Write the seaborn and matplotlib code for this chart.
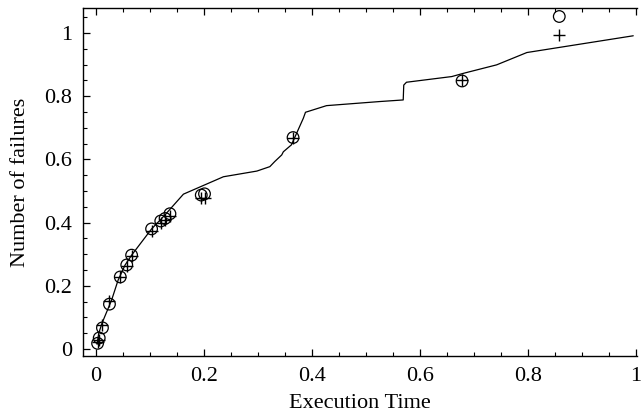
import numpy as np
import pandas as pd
import matplotlib
matplotlib.use("Agg")
import matplotlib.pyplot as plt
from matplotlib.ticker import MultipleLocator
import seaborn as sns

# observed failure points (circles) and estimated points (crosses)
fail_time = [0.003, 0.006, 0.012, 0.025, 0.045, 0.057, 0.066, 0.103, 0.120, 0.128,
             0.137, 0.195, 0.201, 0.365, 0.678, 0.858]
circle_y = [0.018, 0.035, 0.067, 0.142, 0.228, 0.266, 0.297, 0.380, 0.405, 0.413,
            0.428, 0.487, 0.491, 0.669, 0.848, 1.052]
cross_y = [0.022, 0.030, 0.075, 0.152, 0.228, 0.262, 0.295, 0.372, 0.398, 0.408,
           0.420, 0.478, 0.479, 0.669, 0.852, 0.994]

# fitted curve
curve_x = [0.002, 0.005, 0.011, 0.029, 0.041, 0.054, 0.066, 0.103, 0.125, 0.162,
           0.236, 0.298, 0.322, 0.331, 0.344, 0.347, 0.362, 0.384, 0.388, 0.427,
           0.526, 0.569, 0.570, 0.575, 0.659, 0.680, 0.742, 0.798, 0.995]
curve_y = [0.015, 0.049, 0.081, 0.155, 0.218, 0.266, 0.297, 0.380, 0.419, 0.490,
           0.545, 0.563, 0.577, 0.593, 0.614, 0.624, 0.646, 0.730, 0.749, 0.770,
           0.783, 0.788, 0.835, 0.844, 0.862, 0.872, 0.899, 0.938, 0.991]

sns.set_style("ticks")
plt.rcParams['font.family'] = ['Liberation Serif', 'DejaVu Serif']
plt.rcParams['text.color'] = 'black'
plt.rcParams['axes.labelcolor'] = 'black'

fig = plt.figure(figsize=(6.41, 4.19), dpi=100)
ax = fig.add_axes([0.1295, 0.1504, 0.8643, 0.8306])

curve = pd.DataFrame({"x": curve_x, "y": curve_y})
pts = pd.DataFrame({"t": fail_time, "c": circle_y, "p": cross_y})

sns.lineplot(data=curve, x="x", y="y", sort=False, color="black", linewidth=0.9, ax=ax)
sns.scatterplot(data=pts, x="t", y="c", marker="o", s=70, facecolors="none",
                edgecolor="black", linewidth=0.9, ax=ax)
sns.scatterplot(data=pts, x="t", y="p", marker="+", s=80, color="black",
                linewidth=1.0, ax=ax)

ax.set_xlim(-0.024, 1.002)
ax.set_ylim(-0.022, 1.079)
ax.xaxis.set_minor_locator(MultipleLocator(0.05))
ax.yaxis.set_minor_locator(MultipleLocator(0.05))
ax.set_xticks([0, 0.2, 0.4, 0.6, 0.8, 1.0])
ax.set_xticklabels(["0", "0.2", "0.4", "0.6", "0.8", "1"])
ax.set_yticks([0, 0.2, 0.4, 0.6, 0.8, 1.0])
ax.set_yticklabels(["0", "0.2", "0.4", "0.6", "0.8", "1"])

ax.spines['right'].set_visible(False)
for s in ['left', 'bottom', 'top']:
    ax.spines[s].set_linewidth(1.0)
    ax.spines[s].set_color("black")

ax.tick_params(which='both', direction='in', top=True, right=False,
               labelsize=16, colors='black')
ax.tick_params(which='major', length=5, width=0.9, pad=8)
ax.tick_params(which='minor', length=3, width=0.8)

ax.set_xlabel("Execution Time", fontsize=16, labelpad=6, color='black')
ax.set_ylabel("Number of failures", fontsize=16, labelpad=10, color='black')

fig.savefig("out.png", dpi=100)
